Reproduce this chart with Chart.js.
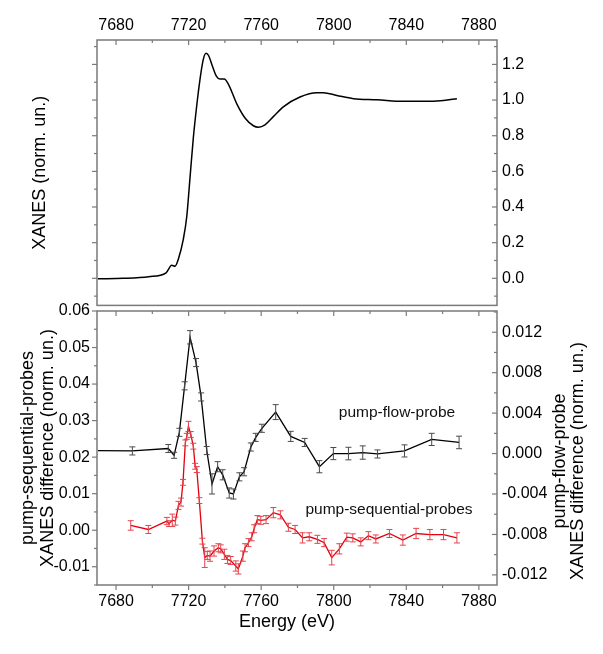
<!DOCTYPE html>
<html>
<head>
<meta charset="utf-8">
<script src="https://cdn.jsdelivr.net/npm/chart.js@4.4.1/dist/chart.umd.min.js"></script>
<style>
  html, body { margin: 0; padding: 0; background: #fff; }
  #wrap { position: relative; width: 603px; height: 654px; }
  #topBox { position: absolute; left: 0; top: 0; width: 603px; height: 320px; }
  #botBox { position: absolute; left: 0; top: 290px; width: 603px; height: 364px; }
</style>
</head>
<body>
<div id="wrap">
  <div id="topBox"><canvas id="xanesChart"></canvas></div>
  <div id="botBox"><canvas id="diffChart"></canvas></div>
</div>
<script>
// --- data ---
var energyTicks = [7680, 7720, 7760, 7800, 7840, 7880];
var xanesTicks = [0.0, 0.2, 0.4, 0.6, 0.8, 1.0, 1.2];
var seqTicks = [-0.01, 0.00, 0.01, 0.02, 0.03, 0.04, 0.05, 0.06];
var flowTicks = [-0.012, -0.008, -0.004, 0.000, 0.004, 0.008, 0.012];

// XANES spectrum (top panel)
var xanesEnergy = [7670, 7684, 7698, 7707.6, 7710.7, 7712.5, 7714.4, 7717.1, 7719, 7720.8, 7722.6, 7724.5, 7726.3, 7728.1, 7729.6, 7731, 7732.8, 7735.2, 7737.3, 7739.6, 7741.9, 7746.5, 7751.2, 7755.7, 7758.5, 7762.1, 7766.7, 7772.2, 7781.4, 7790.7, 7794.3, 7801.7, 7810.9, 7823.8, 7838.5, 7849.5, 7860.5, 7867.9];
var xanesValue = [-0.003, 0.0, 0.009, 0.031, 0.073, 0.068, 0.11, 0.22, 0.348, 0.568, 0.788, 0.971, 1.118, 1.228, 1.262, 1.25, 1.2, 1.136, 1.118, 1.118, 1.09, 0.98, 0.898, 0.856, 0.848, 0.861, 0.907, 0.962, 1.017, 1.041, 1.041, 1.026, 1.008, 1.002, 0.993, 0.993, 0.998, 1.008];

// pump-flow-probe difference (right axis)
var flowEnergy = [7670, 7689, 7708.8, 7712, 7714.9, 7717.8, 7720.8, 7724.1, 7726.9, 7730, 7732.9, 7736, 7738.8, 7742.4, 7744.7, 7748, 7750.6, 7754.3, 7757, 7760.4, 7768, 7776.3, 7784, 7792.1, 7799.8, 7808.1, 7816, 7824.1, 7839, 7854, 7869.1];
var flowValue = [0.0003, 0.00026, 0.0005, -0.00017, 0.0021, 0.0067, 0.0115, 0.009, 0.0056, 0.0003, -0.003, -0.0013, -0.0021, -0.0039, -0.004, -0.0023, -0.0018, 0.00065, 0.0016, 0.0025, 0.0041, 0.0017, 0.0011, -0.0013, 0.0, 0.0, 0.0001, -0.00004, 0.00026, 0.0014, 0.0011];
var flowError = [0, 0.0004, 0.0004, 0.0003, 0.0004, 0.0004, 0.00066, 0.0004, 0.0004, 0.0004, 0.001, 0.0005, 0.0005, 0.0005, 0.0005, 0.0004, 0.0004, 0.0004, 0.0004, 0.0004, 0.00074, 0.0005, 0.0004, 0.0006, 0.0006, 0.00062, 0.00066, 0.0004, 0.0006, 0.0006, 0.00062];

// pump-sequential-probes difference (left axis)
var seqEnergy = [7688.1, 7697.8, 7708, 7709.2, 7711, 7712.7, 7714.4, 7715.8, 7716.9, 7718.2, 7719, 7719.9, 7721.2, 7722.6, 7723.6, 7724.5, 7725.9, 7727.6, 7728.9, 7730.3, 7731.8, 7734, 7736.4, 7737.7, 7739.7, 7741.4, 7743.2, 7746, 7747.4, 7749.9, 7751.1, 7753, 7754.8, 7756.1, 7757.9, 7759.8, 7762.7, 7766.7, 7770.6, 7775, 7778.7, 7782.8, 7786.5, 7791, 7794.7, 7798.9, 7803.1, 7807.2, 7810.5, 7814.9, 7819.1, 7823.2, 7830.7, 7838.1, 7845.4, 7853, 7860.5, 7867.9];
var seqValue = [0.0013, 0.0002, 0.0025, 0.0018, 0.0027, 0.0025, 0.0068, 0.0077, 0.0131, 0.0239, 0.0257, 0.0284, 0.0262, 0.023, 0.0175, 0.0166, 0.0081, -0.003, -0.0075, -0.0069, -0.0071, -0.0057, -0.0048, -0.0051, -0.0066, -0.008, -0.0083, -0.0098, -0.0106, -0.0071, -0.0048, -0.0034, -0.0018, 0.0004, 0.0029, 0.0027, 0.0029, 0.0048, 0.0042, 0.0008, 0.0002, -0.0021, -0.0018, -0.0025, -0.0034, -0.0075, -0.0051, -0.0019, -0.0021, -0.0032, -0.0015, -0.0024, -0.0009, -0.0027, -0.0009, -0.0012, -0.0012, -0.0021];
var seqError = [0.0013, 0.0011, 0.001, 0.0008, 0.0017, 0.0011, 0.0011, 0.0011, 0.0008, 0.0008, 0.0008, 0.0014, 0.0008, 0.0008, 0.0008, 0.0008, 0.0008, 0.0008, 0.0027, 0.0011, 0.0014, 0.0014, 0.0011, 0.0011, 0.0014, 0.0011, 0.0011, 0.0014, 0.0014, 0.0014, 0.0011, 0.0011, 0.0011, 0.0011, 0.0011, 0.0011, 0.0011, 0.0014, 0.0011, 0.0011, 0.0011, 0.0014, 0.0011, 0.0011, 0.0011, 0.002, 0.0014, 0.0011, 0.0011, 0.0011, 0.0011, 0.0011, 0.0011, 0.0014, 0.0014, 0.0014, 0.0014, 0.0014];

function toPoints(xs, ys) {
    return xs.map(function(x, i) { return { x: x, y: ys[i] }; });
}
function fixedTicks(list) {
    return function(scale) { scale.ticks = list.map(function(v) { return { value: v }; }); };
}
function plainNumber(v) { return String(v); }

Chart.defaults.font.family = '"Liberation Sans", Arial, sans-serif';
Chart.defaults.color = '#000';

var tickFont = { size: 16 };

// frame box plus major/minor tick marks (in or out)
var frameTicks = {
    id: 'frameTicks',
    afterDraw: function(chart, args, opts) {
        var ctx = chart.ctx, a = chart.chartArea;
        ctx.save();
        ctx.strokeStyle = '#7a7a7a';
        ctx.lineWidth = 1.2;
        (opts.marks || []).forEach(function(m) {
            var sc = chart.scales[m.scale];
            var start = Math.ceil(sc.min / m.minor - 1e-6);
            for (var n = start; n * m.minor <= sc.max + 1e-9; n++) {
                var v = n * m.minor;
                var r = v / m.major;
                var len = Math.abs(r - Math.round(r)) < 1e-6 ? 5 : 3;
                var sign = m.dir === 'in' ? 1 : -1;
                var p = sc.getPixelForValue(v);
                ctx.beginPath();
                if (m.side === 'top') { ctx.moveTo(p, a.top); ctx.lineTo(p, a.top + sign * len); }
                if (m.side === 'bottom') { ctx.moveTo(p, a.bottom); ctx.lineTo(p, a.bottom - sign * len); }
                if (m.side === 'left') { ctx.moveTo(a.left, p); ctx.lineTo(a.left + sign * len, p); }
                if (m.side === 'right') { ctx.moveTo(a.right, p); ctx.lineTo(a.right - sign * len, p); }
                ctx.stroke();
            }
        });
        ctx.lineWidth = 1.5;
        ctx.strokeRect(a.left, a.top, a.right - a.left, a.bottom - a.top);
        ctx.restore();
    }
};

// vertical error bars with caps
var errorBars = {
    id: 'errorBars',
    afterDatasetsDraw: function(chart) {
        var ctx = chart.ctx, a = chart.chartArea;
        ctx.save();
        ctx.beginPath();
        ctx.rect(a.left, a.top, a.right - a.left, a.bottom - a.top);
        ctx.clip();
        chart.data.datasets.forEach(function(ds) {
            if (!ds.errors) return;
            var xs = chart.scales.x, ys = chart.scales[ds.yAxisID];
            ctx.strokeStyle = ds.errorColor;
            ctx.lineWidth = 1;
            ds.data.forEach(function(p, j) {
                var e = ds.errors[j];
                if (!e) return;
                var px = xs.getPixelForValue(p.x);
                var y1 = ys.getPixelForValue(p.y - e), y2 = ys.getPixelForValue(p.y + e);
                ctx.beginPath();
                ctx.moveTo(px, y1); ctx.lineTo(px, y2);
                ctx.moveTo(px - 3, y1); ctx.lineTo(px + 3, y1);
                ctx.moveTo(px - 3, y2); ctx.lineTo(px + 3, y2);
                ctx.stroke();
            });
        });
        ctx.restore();
    }
};

// titles that chart.js can't place this way (right side reads bottom-up) + labels
var diffText = {
    id: 'diffText',
    afterDraw: function(chart) {
        var ctx = chart.ctx, a = chart.chartArea;
        ctx.save();
        ctx.fillStyle = '#000';
        ctx.textAlign = 'center';
        ctx.textBaseline = 'middle';
        ctx.font = '18px "Liberation Sans", Arial, sans-serif';
        ctx.fillText('Energy (eV)', a.left + 190, a.bottom + 37);
        ctx.save();
        ctx.translate(a.right + 63, (a.top + a.bottom) / 2 + 13);
        ctx.rotate(-Math.PI / 2);
        ctx.fillText('pump-flow-probe', 0, 0);
        ctx.fillText('XANES difference (norm. un.)', 0, 18);
        ctx.restore();
        ctx.font = '15.5px "Liberation Sans", Arial, sans-serif';
        ctx.fillStyle = '#111';
        ctx.fillText('pump-flow-probe', a.left + 300, a.top + 102);
        ctx.fillText('pump-sequential-probes', a.left + 292, a.top + 199);
        ctx.restore();
    }
};

// Top panel: XANES
new Chart(document.getElementById('xanesChart'), {
    type: 'scatter',
    data: {
        datasets: [{
            data: toPoints(xanesEnergy, xanesValue),
            showLine: true,
            borderColor: '#000',
            borderWidth: 1.5,
            pointRadius: 0,
            cubicInterpolationMode: 'monotone',
            yAxisID: 'yR'
        }]
    },
    options: {
        responsive: true,
        maintainAspectRatio: false,
        animation: false,
        layout: { padding: { left: 0, right: 0, top: 0, bottom: 9 } },
        plugins: {
            legend: { display: false },
            tooltip: { enabled: false },
            frameTicks: { marks: [
                { scale: 'x', side: 'top', dir: 'in', major: 40, minor: 20 },
                { scale: 'yL', side: 'left', dir: 'out', major: 0.2, minor: 0.1 },
                { scale: 'yR', side: 'right', dir: 'in', major: 0.2, minor: 0.1 }
            ] }
        },
        scales: {
            x: {
                type: 'linear', position: 'top', min: 7669.5, max: 7890,
                grid: { display: false, drawTicks: false }, border: { display: false },
                afterBuildTicks: fixedTicks(energyTicks),
                ticks: { font: tickFont, padding: 5, callback: plainNumber },
                afterFit: function(s) { s.height = 40; }
            },
            yL: {
                type: 'linear', position: 'left', min: -0.152, max: 1.337,
                grid: { display: false, drawTicks: false }, border: { display: false },
                ticks: { display: false },
                title: { display: true, text: 'XANES (norm. un.)', font: { size: 18, lineHeight: 1.2 }, padding: { top: 29, bottom: 0 } },
                afterFit: function(s) { s.width = 97; }
            },
            yR: {
                type: 'linear', position: 'right', min: -0.152, max: 1.337,
                grid: { display: false, drawTicks: false }, border: { display: false },
                afterBuildTicks: fixedTicks(xanesTicks),
                ticks: { font: tickFont, padding: 5, callback: function(v) { return v.toFixed(1); } },
                afterFit: function(s) { s.width = 106; }
            }
        }
    },
    plugins: [frameTicks]
});

// Bottom panel: difference spectra
new Chart(document.getElementById('diffChart'), {
    type: 'scatter',
    data: {
        datasets: [{
            label: 'pump-flow-probe',
            data: toPoints(flowEnergy, flowValue),
            errors: flowError,
            errorColor: '#4a4a4a',
            showLine: true,
            borderColor: '#000',
            borderWidth: 1.3,
            pointRadius: 0,
            yAxisID: 'yR'
        }, {
            label: 'pump-sequential-probes',
            data: toPoints(seqEnergy, seqValue),
            errors: seqError,
            errorColor: '#e4454d',
            showLine: true,
            borderColor: '#e3000f',
            borderWidth: 1.3,
            pointRadius: 0,
            yAxisID: 'yL'
        }]
    },
    options: {
        responsive: true,
        maintainAspectRatio: false,
        animation: false,
        layout: { padding: { left: 0, right: 0, top: 21, bottom: 0 } },
        plugins: {
            legend: { display: false },
            tooltip: { enabled: false },
            frameTicks: { marks: [
                { scale: 'x', side: 'top', dir: 'in', major: 40, minor: 20 },
                { scale: 'x', side: 'bottom', dir: 'out', major: 40, minor: 20 },
                { scale: 'yL', side: 'left', dir: 'out', major: 0.01, minor: 0.005 },
                { scale: 'yR', side: 'right', dir: 'in', major: 0.004, minor: 0.002 }
            ] }
        },
        scales: {
            x: {
                type: 'linear', position: 'bottom', min: 7669.5, max: 7890,
                grid: { display: false, drawTicks: false }, border: { display: false },
                afterBuildTicks: fixedTicks(energyTicks),
                ticks: { font: tickFont, padding: 6.5, callback: plainNumber },
                afterFit: function(s) { s.height = 69; }
            },
            yL: {
                type: 'linear', position: 'left', min: -0.015, max: 0.06,
                grid: { display: false, drawTicks: false }, border: { display: false },
                afterBuildTicks: fixedTicks(seqTicks),
                ticks: { font: tickFont, padding: 7, callback: function(v) { return v.toFixed(2); } },
                title: { display: true, text: ['pump-sequential-probes', 'XANES difference (norm. un.)'], font: { size: 18, lineHeight: 1.1 }, padding: { top: 18, bottom: 0 } },
                afterFit: function(s) { s.width = 97; }
            },
            yR: {
                type: 'linear', position: 'right', min: -0.013, max: 0.0141,
                grid: { display: false, drawTicks: false }, border: { display: false },
                afterBuildTicks: fixedTicks(flowTicks),
                ticks: { font: tickFont, padding: 5, callback: function(v) { return v.toFixed(3); } },
                afterFit: function(s) { s.width = 106; }
            }
        }
    },
    plugins: [frameTicks, errorBars, diffText]
});
</script>
</body>
</html>
